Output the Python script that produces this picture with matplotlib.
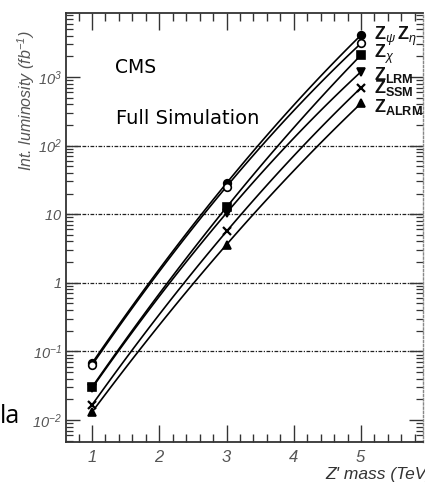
import numpy as np
import matplotlib
matplotlib.use("Agg")
import matplotlib.pyplot as plt
from matplotlib.ticker import FixedLocator, FixedFormatter, LogLocator, NullFormatter, MultipleLocator

plt.rcParams['mathtext.fontset'] = 'custom'
plt.rcParams['mathtext.rm'] = 'Liberation Sans:italic'
plt.rcParams['mathtext.it'] = 'Liberation Sans:italic'
plt.rcParams['mathtext.bf'] = 'Liberation Sans:bold'
plt.rcParams['font.family'] = ['Liberation Sans', 'DejaVu Sans']

# Z' mass points (TeV) and required integrated luminosity (fb^-1)
mass = [1, 3, 5]
lumi_psi = [0.067, 28.3, 4090]
lumi_eta = [0.063, 25.2, 3100]
lumi_chi = [0.030, 12.6, 2095]
lumi_lrm = [0.029, 10.4, 1195]
lumi_ssm = [0.0165, 5.6, 698]
lumi_alrm = [0.013, 3.6, 414]

series = [
    (lumi_psi, 'o', 'black'),
    (lumi_eta, 'o', 'white'),
    (lumi_chi, 's', 'black'),
    (lumi_lrm, 'v', 'black'),
    (lumi_ssm, 'x', 'black'),
    (lumi_alrm, '^', 'black'),
]

labels = [r'$\mathbf{Z}_{\psi}\,\mathbf{Z}_{\eta}$', r'$\mathbf{Z}_{\chi}$',
          r'$\mathbf{Z}_{\mathbf{LRM}}$', r'$\mathbf{Z}_{\mathbf{SSM}}$',
          r'$\mathbf{Z}_{\mathbf{ALRM}}$']
label_y = [3500, 1893, 905, 585, 309]

ytick_vals = [1e-2, 1e-1, 1, 10, 1e2, 1e3]
ytick_text = [r'$10^{-2}$', r'$10^{-1}$', r'$1$', r'$10$', r'$10^{2}$', r'$10^{3}$']
xtick_vals = [1, 2, 3, 4, 5]
grid_vals = [1e-1, 1, 10, 1e2]

fig = plt.figure(figsize=(4.25, 4.82), dpi=100)
ax = fig.add_axes([66/425, 1-442/482, 357/425, 429/482])
ax.set_yscale('log')
ax.set_xlim(0.614, 5.921)
ax.set_ylim(10**-2.321, 10**3.933)

for g in grid_vals:
    ax.axhline(g, color='#222222', lw=0.9, ls=(0, (3, 1.2, 1, 1.2)), zorder=1)

# smooth curve through the three mass points (quadratic in log scale)
xs = np.linspace(1, 5, 120)
for vals, mk, fc in series:
    coef = np.polyfit(mass, np.log10(vals), 2)
    ax.plot(xs, 10**np.polyval(coef, xs), color='black', lw=1.2, zorder=2)
    if mk == 'x':
        ax.plot(mass, vals, ls='none', marker=mk, ms=5.5, mew=1.6, color='black', zorder=3)
    else:
        ax.plot(mass, vals, ls='none', marker=mk, ms=5.5, mfc=fc, mec='black', mew=1.2, zorder=3)

for lab, yv in zip(labels, label_y):
    ax.text(5.19, yv, lab, fontsize=13, va='baseline', ha='left', color='#111111')

ax.text(1.34, 10**3.058, 'CMS', fontsize=13.5, family='DejaVu Sans', va='baseline')
ax.text(1.36, 10**2.315, 'Full Simulation', fontsize=14, family='DejaVu Sans', va='baseline')

ax.yaxis.set_major_locator(FixedLocator(ytick_vals))
ax.yaxis.set_major_formatter(FixedFormatter(ytick_text))
ax.yaxis.set_minor_locator(LogLocator(base=10, subs=np.arange(2, 10), numticks=20))
ax.yaxis.set_minor_formatter(NullFormatter())
ax.xaxis.set_major_locator(FixedLocator(xtick_vals))
ax.xaxis.set_major_formatter(FixedFormatter([r'$%d$' % v for v in xtick_vals]))
ax.xaxis.set_minor_locator(MultipleLocator(0.2))

ax.tick_params(which='both', direction='in', top=True, right=True, color='#333333')
ax.tick_params(axis='x', which='major', length=12, width=1.0, labelsize=12, labelcolor='#555555', pad=5)
ax.tick_params(axis='x', which='minor', length=6, width=1.0)
ax.tick_params(axis='y', which='major', length=10, width=1.0, labelsize=10.5, labelcolor='#555555', pad=3)
ax.tick_params(axis='y', which='minor', length=5, width=0.9)

for side in ['left', 'bottom', 'top']:
    ax.spines[side].set_linewidth(1.3)
    ax.spines[side].set_color('#333333')
ax.spines['right'].set_linewidth(1.0)
ax.spines['right'].set_color('#888888')
ax.spines['right'].set_linestyle((0, (1.5, 1.5)))

fig.text(26/425, 1-101/482, 'Int. luminosity (fb$^{-1}$)', rotation=90, style='italic',
         fontsize=11.5, color='#555555', ha='center', va='center')
fig.text(325/425, 1-475/482, "Z' mass (TeV)", fontsize=12.5, style='italic',
         color='#333333', ha='left', va='center')
fig.text(0.0, 1-423/482, 'la', fontsize=18, family='Open Sans', color='black',
         ha='left', va='baseline')

fig.savefig('out.png', dpi=100)
